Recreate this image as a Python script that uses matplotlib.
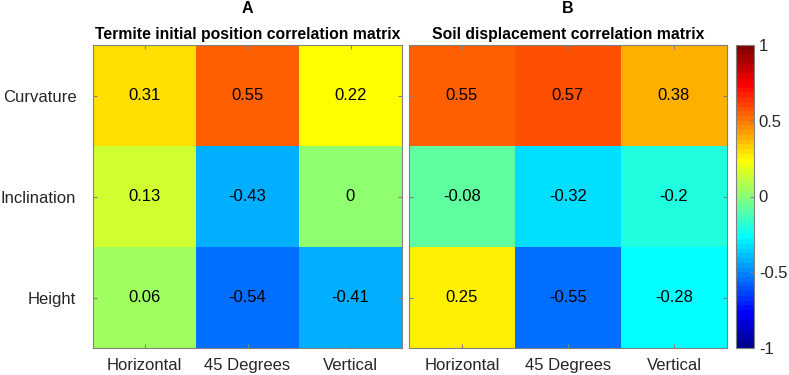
import numpy as np
import matplotlib.pyplot as plt
from matplotlib.colors import ListedColormap

# correlation values, rows = terrain features, cols = surface orientation
rows = ['Curvature', 'Inclination', 'Height']
cols = ['Horizontal', '45 Degrees', 'Vertical']
termite_corr = [[0.31, 0.55, 0.22],
                [0.13, -0.43, 0.0],
                [0.06, -0.54, -0.41]]
soil_corr = [[0.55, 0.57, 0.38],
             [-0.08, -0.32, -0.2],
             [0.25, -0.55, -0.28]]
panel_letters = ['A', 'B']
panel_titles = ['Termite initial position correlation matrix',
                'Soil displacement correlation matrix']
cbar_ticks = [-1, -0.5, 0, 0.5, 1]


def matlab_jet(m=64):
    # same recipe as matlab's jet(m)
    n = int(np.ceil(m / 4))
    u = np.concatenate([np.arange(1, n + 1) / n, np.ones(n - 1), np.arange(n, 0, -1) / n])
    g = int(np.ceil(n / 2)) - (m % 4 == 1) + np.arange(1, len(u) + 1)
    r = g + n
    b = g - n
    cmap = np.zeros((m, 3))
    for ch, idx in enumerate([r, g, b]):
        ok = (idx >= 1) & (idx <= m)
        cmap[idx[ok] - 1, ch] = u[ok]
    return ListedColormap(cmap)


jet = matlab_jet(64)

fig = plt.figure(figsize=(7.89, 3.75), dpi=100)
axA = fig.add_axes([93 / 789, 27 / 375, 309 / 789, 303 / 375])
axB = fig.add_axes([409 / 789, 27 / 375, 318 / 789, 303 / 375])
cax = fig.add_axes([736 / 789, 27 / 375, 18 / 789, 303 / 375])

grey = '#262626'
fnt = 'Liberation Sans'
fs = 12
for ax, data, letter, title in zip([axA, axB], [termite_corr, soil_corr], panel_letters, panel_titles):
    arr = np.array(data)
    im = ax.imshow(arr, cmap=jet, vmin=-1, vmax=1, aspect='auto')
    for i in range(arr.shape[0]):
        for j in range(arr.shape[1]):
            ax.text(j, i, f'{arr[i, j]:g}', ha='center', va='center', fontsize=fs,
                    color='black', family=fnt)
    ax.set_xticks(range(len(cols)))
    ax.set_xticklabels(cols, fontsize=fs, color=grey, family=fnt)
    ax.set_yticks(range(len(rows)))
    ax.tick_params(direction='in', length=3, top=True, right=True, colors='#808080',
                   labelcolor=grey)
    ax.tick_params(axis='x', pad=7)
    ax.tick_params(axis='y', pad=12)
    for s in ax.spines.values():
        s.set_color('#808080')
        s.set_linewidth(0.8)
    ax.set_title(title, fontsize=11.3, fontweight='bold', pad=4, family=fnt)
    ax.text(0.5, 1.12, letter, transform=ax.transAxes, ha='center', va='center',
            fontsize=11.5, fontweight='bold', family=fnt)

axA.set_yticklabels(rows, fontsize=fs, color=grey, family=fnt)
axB.set_yticklabels([])

cb = fig.colorbar(im, cax=cax, ticks=cbar_ticks)
cb.ax.set_yticklabels([f'{t:g}' for t in cbar_ticks], fontsize=fs, color=grey, family=fnt)
cb.ax.tick_params(direction='in', length=3, colors='#808080', labelcolor=grey)
cb.outline.set_edgecolor('#808080')
cb.outline.set_linewidth(0.8)

fig.savefig('out.png', dpi=100)
